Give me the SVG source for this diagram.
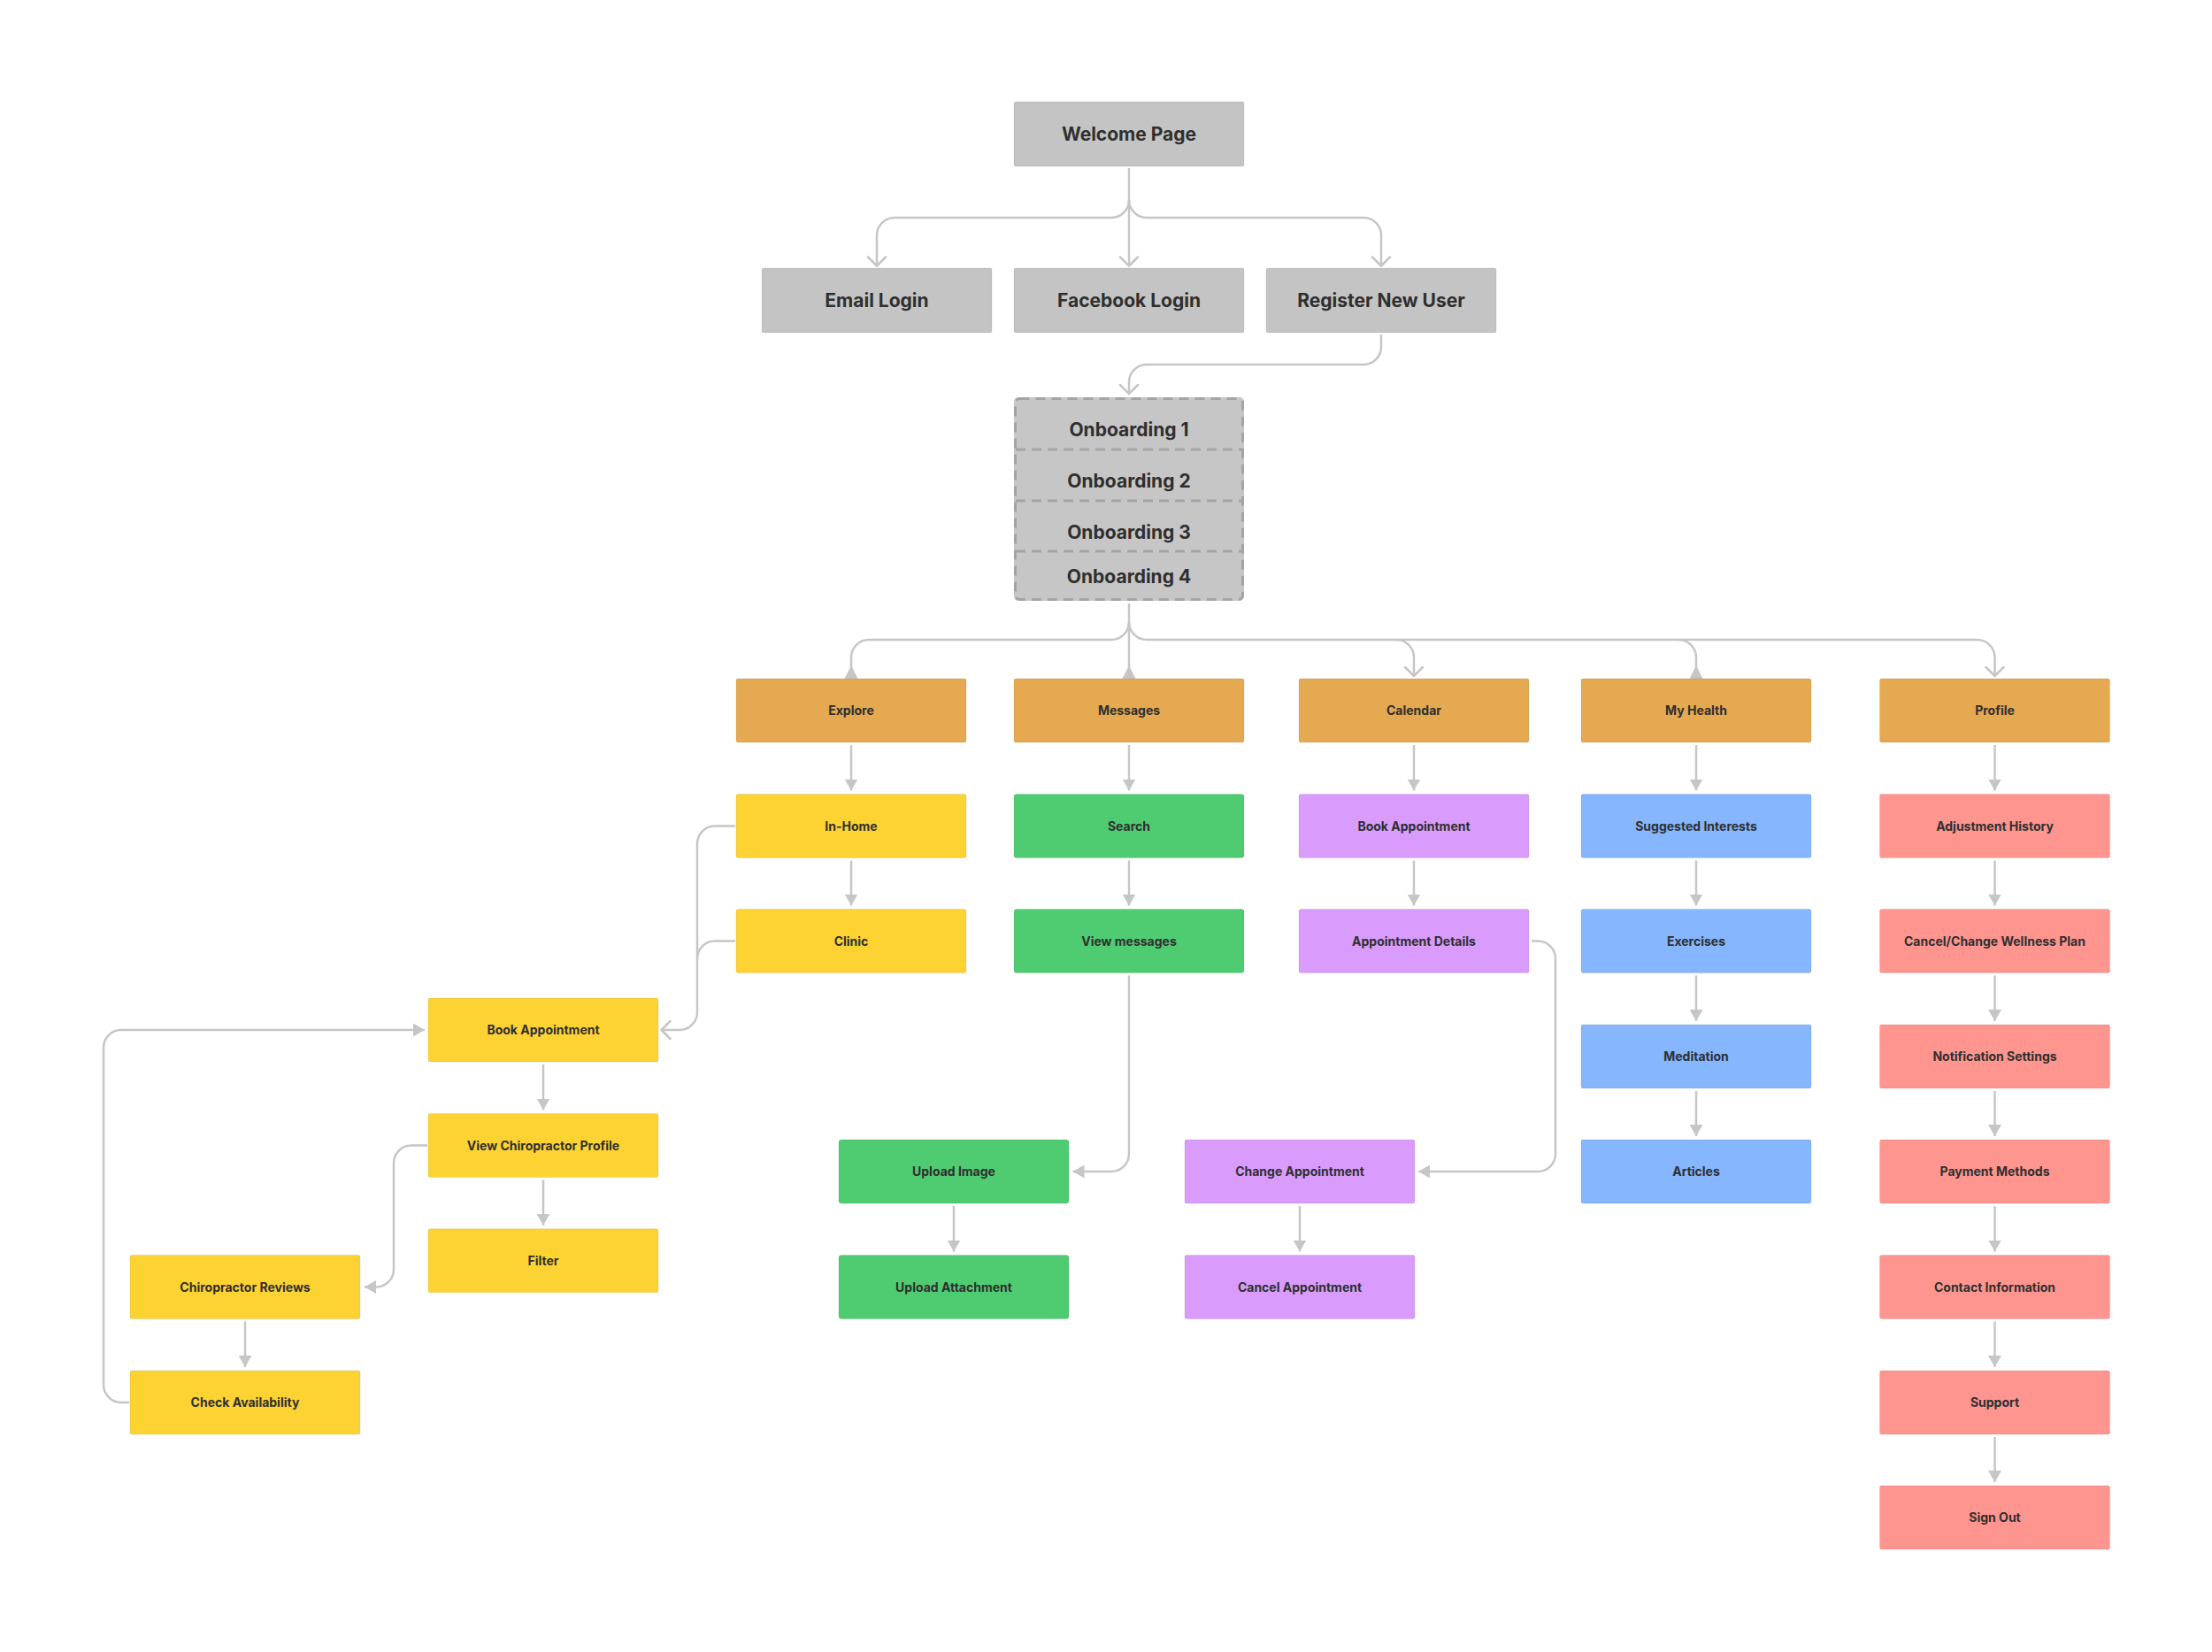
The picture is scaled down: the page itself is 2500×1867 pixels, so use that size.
<svg xmlns="http://www.w3.org/2000/svg" width="2500" height="1867" viewBox="0 0 2500 1867">
<defs>
<style>
.box{stroke:rgba(0,0,0,0.07);stroke-width:1}
.t{font-family:Inter,'Liberation Sans',sans-serif;font-weight:700;fill:#2f2f2f;text-anchor:middle}
.big{font-size:21px}
.sm{font-size:14px}
.gray{fill:#c4c4c4}
.org{fill:#e5a951}
.yel{fill:#fdd334}
.grn{fill:#4fcc72}
.pur{fill:#d99cfc}
.blu{fill:#85b6fe}
.sal{fill:#fe958f}
.ln{fill:none;stroke:#c6c6c6;stroke-width:2.5}
.tr{marker-end:url(#tri)}
.cv{marker-end:url(#chev)}
.ah{fill:#c6c6c6}
.dash{fill:none;stroke:#a4a4a4;stroke-width:3;stroke-dasharray:11 7}
</style>
<marker id="tri" markerUnits="userSpaceOnUse" viewBox="0 0 13 15" refX="13" refY="7.5" markerWidth="13" markerHeight="15" orient="auto">
<path d="M0,0 L13,7.5 L0,15 Z" fill="#c6c6c6"/>
</marker>
<marker id="chev" markerUnits="userSpaceOnUse" viewBox="0 0 14 24" refX="11.5" refY="12" markerWidth="14" markerHeight="24" orient="auto">
<path d="M1.5,2 L11.5,12 L1.5,22" fill="none" stroke="#c6c6c6" stroke-width="2.5" stroke-linecap="round" stroke-linejoin="round"/>
</marker>
</defs>
<rect width="2500" height="1867" fill="#ffffff"/>

<g id="connectors">
<!-- Welcome fork -->
<path class="ln cv" d="M1276,190 V300.5"/>
<path class="ln cv" d="M1276,226 A20,20 0 0 1 1256,246 H1011 A20,20 0 0 0 991,266 V300.5"/>
<path class="ln cv" d="M1276,226 A20,20 0 0 0 1296,246 H1541 A20,20 0 0 1 1561,266 V300.5"/>
<!-- Register to onboarding -->
<path class="ln cv" d="M1561,378 V392 A20,20 0 0 1 1541,412 H1296 A20,20 0 0 0 1276,432 V445"/>
<!-- Onboarding fork -->
<path class="ln" d="M1276,682 V767"/>
<path class="ln" d="M1276,703 A20,20 0 0 1 1256,723 H982 A20,20 0 0 0 962,743 V767"/>
<path class="ln cv" d="M1276,703 A20,20 0 0 0 1296,723 H2234.5 A20,20 0 0 1 2254.5,743 V764"/>
<path class="ln cv" d="M1578,723 A20,20 0 0 1 1598,743 V764"/>
<path class="ln" d="M1897,723 A20,20 0 0 1 1917,743 V767"/>
<polygon class="ah" points="962,752 954.5,767 969.5,767"/>
<polygon class="ah" points="1276,752 1268.5,767 1283.5,767"/>
<polygon class="ah" points="1917,752 1909.5,767 1924.5,767"/>
<!-- vertical arrows -->
<path class="ln tr" d="M962,842 V893.5"/>
<path class="ln tr" d="M962,972.5 V1023.5"/>
<path class="ln tr" d="M1276,842 V893.5"/>
<path class="ln tr" d="M1276,972.5 V1023.5"/>
<path class="ln tr" d="M1598,842 V893.5"/>
<path class="ln tr" d="M1598,972.5 V1023.5"/>
<path class="ln tr" d="M1917,842 V893.5"/>
<path class="ln tr" d="M1917,972.5 V1023.5"/>
<path class="ln tr" d="M1917,1102.5 V1154"/>
<path class="ln tr" d="M1917,1233 V1284"/>
<path class="ln tr" d="M2254.5,842 V893.5"/>
<path class="ln tr" d="M2254.5,972.5 V1023.5"/>
<path class="ln tr" d="M2254.5,1102.5 V1154"/>
<path class="ln tr" d="M2254.5,1233 V1284"/>
<path class="ln tr" d="M2254.5,1363 V1414.5"/>
<path class="ln tr" d="M2254.5,1493.5 V1545"/>
<path class="ln tr" d="M2254.5,1624 V1675"/>
<path class="ln tr" d="M1078,1363 V1414.5"/>
<path class="ln tr" d="M1469,1363 V1414.5"/>
<path class="ln tr" d="M614,1203 V1254.5"/>
<path class="ln tr" d="M614,1333.5 V1384.8"/>
<path class="ln tr" d="M277,1493.5 V1545"/>
<!-- In-Home / Clinic to Book Appointment -->
<path class="ln cv" d="M831,933.5 H808 A20,20 0 0 0 788,953.5 V1144 A20,20 0 0 1 768,1164 H747.5"/>
<path class="ln" d="M831,1063.5 H808 A20,20 0 0 0 788,1083.5"/>
<!-- View Chiro to Reviews -->
<path class="ln tr" d="M483,1294.5 H465 A20,20 0 0 0 445,1314.5 V1434.5 A20,20 0 0 1 425,1454.5 H412"/>
<!-- Check Availability to Book Appointment -->
<path class="ln tr" d="M146,1585 H137 A20,20 0 0 1 117,1565 V1184 A20,20 0 0 1 137,1164 H480"/>
<!-- View messages to Upload Image -->
<path class="ln tr" d="M1276,1102.5 V1304 A20,20 0 0 1 1256,1324 H1212.5"/>
<!-- Appointment Details to Change Appointment -->
<path class="ln tr" d="M1731,1063.5 H1738 A20,20 0 0 1 1758,1083.5 V1304 A20,20 0 0 1 1738,1324 H1603"/>
</g>

<g id="welcome-page"><rect class="box gray" x="1146" y="115" width="260" height="73" rx="2"/><text class="t big" x="1276" y="159">Welcome Page</text></g>
<g id="email-login"><rect class="box gray" x="861" y="303" width="260" height="73" rx="2"/><text class="t big" x="991" y="347">Email Login</text></g>
<g id="facebook-login"><rect class="box gray" x="1146" y="303" width="260" height="73" rx="2"/><text class="t big" x="1276" y="347">Facebook Login</text></g>
<g id="register-new-user"><rect class="box gray" x="1431" y="303" width="260" height="73" rx="2"/><text class="t big" x="1561" y="347">Register New User</text></g>

<g id="onboarding">
<rect x="1146" y="449" width="260" height="230" rx="5" fill="#c6c6c6"/>
<rect class="dash" x="1147.5" y="450.5" width="257" height="227" rx="5"/>
<line class="dash" x1="1148" y1="508" x2="1404" y2="508"/>
<line class="dash" x1="1148" y1="566" x2="1404" y2="566"/>
<line class="dash" x1="1148" y1="623" x2="1404" y2="623"/>
<text class="t big" x="1276" y="492.7">Onboarding 1</text>
<text class="t big" x="1276" y="550.7">Onboarding 2</text>
<text class="t big" x="1276" y="608.7">Onboarding 3</text>
<text class="t big" x="1276" y="658.7">Onboarding 4</text>
</g>

<g id="explore"><rect class="box org" x="832" y="767" width="260" height="72" rx="2"/><text class="t sm" x="962" y="808.1">Explore</text></g>
<g id="messages"><rect class="box org" x="1146" y="767" width="260" height="72" rx="2"/><text class="t sm" x="1276" y="808.1">Messages</text></g>
<g id="calendar"><rect class="box org" x="1468" y="767" width="260" height="72" rx="2"/><text class="t sm" x="1598" y="808.1">Calendar</text></g>
<g id="my-health"><rect class="box org" x="1787" y="767" width="260" height="72" rx="2"/><text class="t sm" x="1917" y="808.1">My Health</text></g>
<g id="profile"><rect class="box org" x="2124.5" y="767" width="260" height="72" rx="2"/><text class="t sm" x="2254.5" y="808.1">Profile</text></g>

<g id="in-home"><rect class="box yel" x="832" y="897.5" width="260" height="72" rx="2"/><text class="t sm" x="962" y="938.6">In-Home</text></g>
<g id="clinic"><rect class="box yel" x="832" y="1027.5" width="260" height="72" rx="2"/><text class="t sm" x="962" y="1068.6">Clinic</text></g>

<g id="search"><rect class="box grn" x="1146" y="897.5" width="260" height="72" rx="3"/><text class="t sm" x="1276" y="938.6">Search</text></g>
<g id="view-messages"><rect class="box grn" x="1146" y="1027.5" width="260" height="72" rx="3"/><text class="t sm" x="1276" y="1068.6">View messages</text></g>
<g id="upload-image"><rect class="box grn" x="948" y="1288" width="260" height="72" rx="3"/><text class="t sm" x="1078" y="1329.1">Upload Image</text></g>
<g id="upload-attachment"><rect class="box grn" x="948" y="1418.5" width="260" height="72" rx="3"/><text class="t sm" x="1078" y="1459.6">Upload Attachment</text></g>

<g id="cal-book-appointment"><rect class="box pur" x="1468" y="897.5" width="260" height="72" rx="2"/><text class="t sm" x="1598" y="938.6">Book Appointment</text></g>
<g id="appointment-details"><rect class="box pur" x="1468" y="1027.5" width="260" height="72" rx="2"/><text class="t sm" x="1598" y="1068.6">Appointment Details</text></g>
<g id="change-appointment"><rect class="box pur" x="1339" y="1288" width="260" height="72" rx="2"/><text class="t sm" x="1469" y="1329.1">Change Appointment</text></g>
<g id="cancel-appointment"><rect class="box pur" x="1339" y="1418.5" width="260" height="72" rx="2"/><text class="t sm" x="1469" y="1459.6">Cancel Appointment</text></g>

<g id="suggested-interests"><rect class="box blu" x="1787" y="897.5" width="260" height="72" rx="2"/><text class="t sm" x="1917" y="938.6">Suggested Interests</text></g>
<g id="exercises"><rect class="box blu" x="1787" y="1027.5" width="260" height="72" rx="2"/><text class="t sm" x="1917" y="1068.6">Exercises</text></g>
<g id="meditation"><rect class="box blu" x="1787" y="1158" width="260" height="72" rx="2"/><text class="t sm" x="1917" y="1199.1">Meditation</text></g>
<g id="articles"><rect class="box blu" x="1787" y="1288" width="260" height="72" rx="2"/><text class="t sm" x="1917" y="1329.1">Articles</text></g>

<g id="adjustment-history"><rect class="box sal" x="2124.5" y="897.5" width="260" height="72" rx="2"/><text class="t sm" x="2254.5" y="938.6">Adjustment History</text></g>
<g id="cancel-change-wellness-plan"><rect class="box sal" x="2124.5" y="1027.5" width="260" height="72" rx="2"/><text class="t sm" x="2254.5" y="1068.6">Cancel/Change Wellness Plan</text></g>
<g id="notification-settings"><rect class="box sal" x="2124.5" y="1158" width="260" height="72" rx="2"/><text class="t sm" x="2254.5" y="1199.1">Notification Settings</text></g>
<g id="payment-methods"><rect class="box sal" x="2124.5" y="1288" width="260" height="72" rx="2"/><text class="t sm" x="2254.5" y="1329.1">Payment Methods</text></g>
<g id="contact-information"><rect class="box sal" x="2124.5" y="1418.5" width="260" height="72" rx="2"/><text class="t sm" x="2254.5" y="1459.6">Contact Information</text></g>
<g id="support"><rect class="box sal" x="2124.5" y="1549" width="260" height="72" rx="2"/><text class="t sm" x="2254.5" y="1590.1">Support</text></g>
<g id="sign-out"><rect class="box sal" x="2124.5" y="1679" width="260" height="72" rx="2"/><text class="t sm" x="2254.5" y="1720.1">Sign Out</text></g>

<g id="book-appointment"><rect class="box yel" x="484" y="1128" width="260" height="72" rx="2"/><text class="t sm" x="614" y="1169.1">Book Appointment</text></g>
<g id="view-chiropractor-profile"><rect class="box yel" x="484" y="1258.5" width="260" height="72" rx="2"/><text class="t sm" x="614" y="1299.6">View Chiropractor Profile</text></g>
<g id="filter"><rect class="box yel" x="484" y="1388.8" width="260" height="72" rx="2"/><text class="t sm" x="614" y="1429.9">Filter</text></g>
<g id="chiropractor-reviews"><rect class="box yel" x="147" y="1418.5" width="260" height="72" rx="2"/><text class="t sm" x="277" y="1459.6">Chiropractor Reviews</text></g>
<g id="check-availability"><rect class="box yel" x="147" y="1549" width="260" height="72" rx="2"/><text class="t sm" x="277" y="1590.1">Check Availability</text></g>
</svg>
